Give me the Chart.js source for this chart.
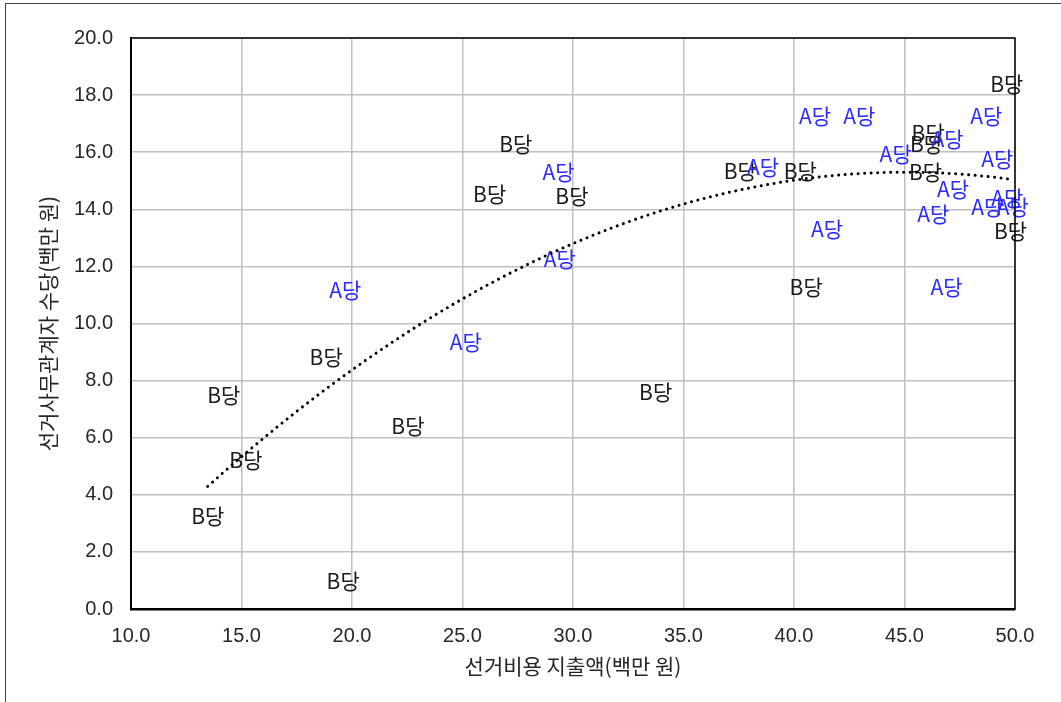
<!DOCTYPE html>
<html>
<head>
<meta charset="utf-8">
<script src="https://cdn.jsdelivr.net/npm/chart.js@4.4.1/dist/chart.umd.min.js"></script>
<style>
  html, body { margin: 0; padding: 0; background: #ffffff; }
  #wrap { position: relative; width: 1061px; height: 702px; overflow: hidden; }
  #wrap canvas { position: absolute; left: 0; top: 0; }
  #frame {
    position: absolute; left: 5px; top: 3px; width: 1200px; height: 900px;
    border-left: 1px solid #404040; border-top: 1px solid #404040;
    box-sizing: border-box; pointer-events: none;
  }
</style>
</head>
<body>
<div id="wrap">
  <canvas id="chart" width="1061" height="702"></canvas>
  <div id="frame"></div>
</div>
<script>
// Party names used as the point labels
const partyALabel = 'A당';
const partyBLabel = 'B당';

// Party A: election spending (million won) and campaign staff allowance (million won)
const partyASpending  = [19.7, 25.15, 29.35, 29.4, 38.6, 40.95, 42.95, 44.6, 46.95, 48.7, 49.2, 47.2, 46.3, 41.5, 46.9, 48.75, 49.65, 49.9];
const partyAAllowance = [11.2, 9.4, 15.35, 12.3, 15.5, 17.3, 17.3, 15.98, 16.5, 17.3, 15.8, 14.75, 13.86, 13.33, 11.3, 14.12, 14.44, 14.1];

// Party B: election spending (million won) and campaign staff allowance (million won)
const partyBSpending  = [13.47, 14.2, 15.2, 18.83, 19.6, 22.53, 26.23, 27.41, 29.95, 33.74, 37.57, 40.28, 40.55, 45.95, 46.07, 46.0, 49.63, 49.8];
const partyBAllowance = [3.3, 7.52, 5.25, 8.86, 1.02, 6.46, 14.56, 16.32, 14.5, 7.64, 15.38, 15.38, 11.3, 15.33, 16.72, 16.31, 18.42, 13.28];

// Axis ticks
const xTicks = [10, 15, 20, 25, 30, 35, 40, 45, 50];
const yTicks = [0, 2, 4, 6, 8, 10, 12, 14, 16, 18, 20];

// Axis titles
const xTitle = '선거비용 지출액(백만 원)';
const yTitle = '선거사무관계자 수당(백만 원)';

// Second-order least-squares trend over all points
function quadraticFit(xs, ys) {
  let s = [0, 0, 0, 0, 0], t = [0, 0, 0];
  for (let i = 0; i < xs.length; i++) {
    const x = xs[i], y = ys[i];
    let p = 1;
    for (let k = 0; k < 5; k++) { s[k] += p; if (k < 3) t[k] += p * y; p *= x; }
  }
  const m = [[s[0], s[1], s[2], t[0]], [s[1], s[2], s[3], t[1]], [s[2], s[3], s[4], t[2]]];
  for (let c = 0; c < 3; c++) {
    for (let r = c + 1; r < 3; r++) {
      const f = m[r][c] / m[c][c];
      for (let k = c; k < 4; k++) m[r][k] -= f * m[c][k];
    }
  }
  const coef = [0, 0, 0];
  for (let r = 2; r >= 0; r--) {
    let v = m[r][3];
    for (let k = r + 1; k < 3; k++) v -= m[r][k] * coef[k];
    coef[r] = v / m[r][r];
  }
  return coef;
}

const allX = partyASpending.concat(partyBSpending);
const allY = partyAAllowance.concat(partyBAllowance);
const coef = quadraticFit(allX, allY);
const xMin = Math.min(...allX), xMax = Math.max(...allX);
const trend = [];
const steps = 80;
for (let i = 0; i <= steps; i++) {
  const x = xMin + (xMax - xMin) * i / steps;
  trend.push({ x: x, y: coef[0] + coef[1] * x + coef[2] * x * x });
}

const toPoints = (xs, ys) => xs.map((x, i) => ({ x: x, y: ys[i] }));

// Draws each point as its party name, centred on the point
const pointLabels = {
  id: 'pointLabels',
  beforeDatasetsDraw(chart) {
    const ctx = chart.ctx;
    ctx.save();
    ctx.font = '21px "Noto Sans CJK KR", "Noto Sans", sans-serif';
    ctx.textAlign = 'center';
    ctx.textBaseline = 'middle';
    chart.data.datasets.forEach((ds, di) => {
      if (!ds.pointText) return;
      const meta = chart.getDatasetMeta(di);
      ctx.fillStyle = ds.pointTextColor;
      meta.data.forEach(el => ctx.fillText(ds.pointText, el.x, el.y + 1));
    });
    ctx.restore();
  }
};

// Closes the plot frame on the top and right
const plotFrame = {
  id: 'plotFrame',
  afterDraw(chart) {
    const a = chart.chartArea, ctx = chart.ctx;
    ctx.save();
    ctx.strokeStyle = '#000000';
    ctx.lineWidth = 1.5;
    ctx.beginPath();
    ctx.moveTo(a.left, a.top);
    ctx.lineTo(a.right, a.top);
    ctx.lineTo(a.right, a.bottom);
    ctx.stroke();
    ctx.restore();
  }
};

const tickFont = { family: '"Liberation Sans", Arial, sans-serif', size: 20 };
const titleFont = { family: '"Noto Sans CJK KR", sans-serif', size: 21 };

new Chart(document.getElementById('chart'), {
  type: 'scatter',
  data: {
    datasets: [
      {
        label: partyBLabel,
        data: toPoints(partyBSpending, partyBAllowance),
        pointRadius: 0, pointHoverRadius: 0,
        pointText: partyBLabel, pointTextColor: '#1a1a1a'
      },
      {
        label: partyALabel,
        data: toPoints(partyASpending, partyAAllowance),
        pointRadius: 0, pointHoverRadius: 0,
        pointText: partyALabel, pointTextColor: '#2b2bff'
      },
      {
        type: 'line',
        label: 'trend',
        data: trend,
        showLine: true,
        borderColor: '#000000',
        borderWidth: 3,
        borderDash: [0.01, 6.5],
        borderCapStyle: 'round',
        pointRadius: 0,
        tension: 0,
        fill: false
      }
    ]
  },
  options: {
    responsive: false,
    animation: false,
    devicePixelRatio: 1,
    layout: { padding: { left: 0, right: 46, top: 38, bottom: 0 } },
    plugins: { legend: { display: false }, tooltip: { enabled: false } },
    scales: {
      x: {
        type: 'linear',
        min: 10, max: 50,
        afterBuildTicks: s => { s.ticks = xTicks.map(v => ({ value: v })); },
        afterFit: s => { s.height = 93; },
        ticks: {
          font: tickFont, color: '#262626', padding: 15,
          callback: v => Number(v).toFixed(1)
        },
        grid: { color: '#bfbfbf', lineWidth: 1.5, drawTicks: false },
        border: { color: '#000000', width: 2.5 },
        title: {
          display: true, text: xTitle, font: titleFont, color: '#262626',
          padding: { top: 0, bottom: 23 }
        }
      },
      y: {
        type: 'linear',
        min: 0, max: 20,
        afterBuildTicks: s => { s.ticks = yTicks.map(v => ({ value: v })); },
        afterFit: s => { s.width = 131; },
        ticks: {
          font: tickFont, color: '#262626', padding: 18,
          callback: v => Number(v).toFixed(1)
        },
        grid: { color: '#bfbfbf', lineWidth: 1.5, drawTicks: false },
        border: { color: '#000000', width: 2 },
        title: {
          display: true, text: yTitle, font: titleFont, color: '#262626',
          padding: { top: 35, bottom: 0 }
        }
      }
    }
  },
  plugins: [pointLabels, plotFrame]
});
</script>
</body>
</html>
